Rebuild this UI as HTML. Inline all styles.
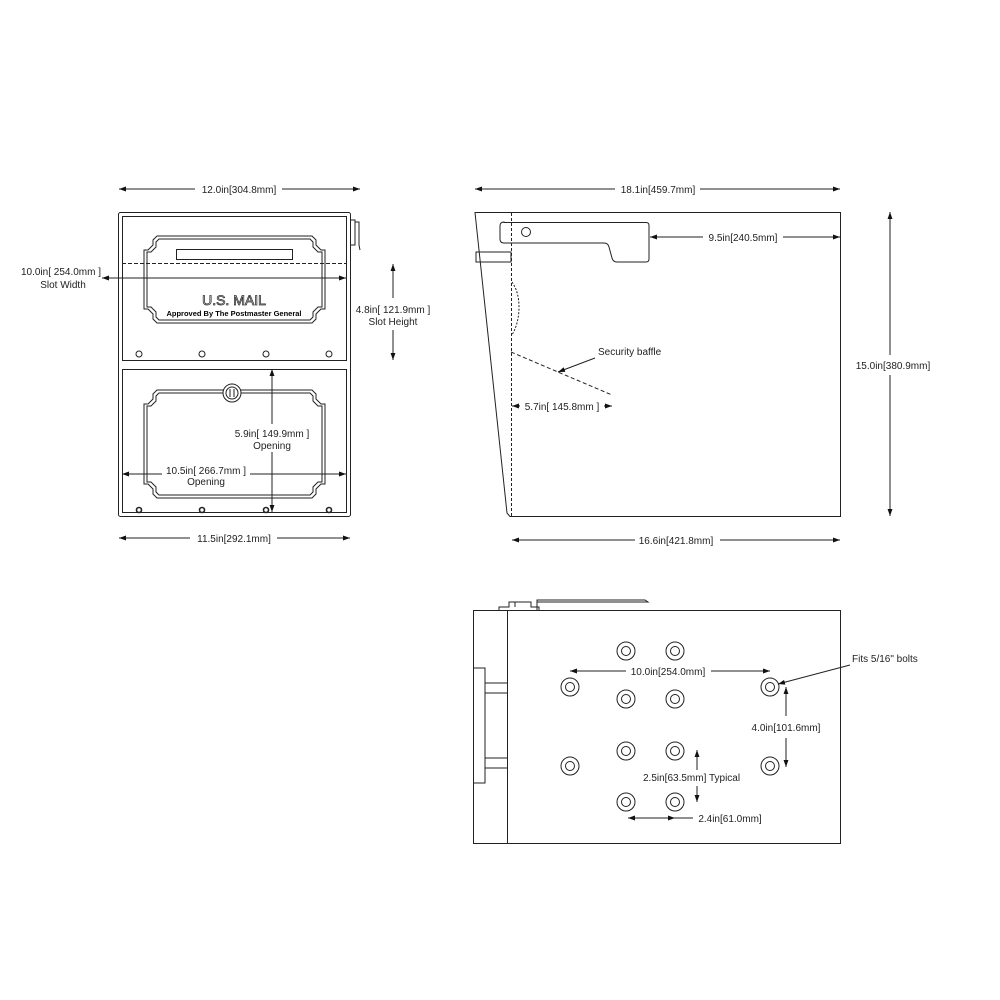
<!DOCTYPE html>
<html><head><meta charset="utf-8"><style>
html,body{margin:0;padding:0;background:#fff;}
svg{display:block;}
text{font-family:"Liberation Sans",sans-serif;font-size:10px;fill:#222;}
</style></head><body>
<svg width="1000" height="1000" viewBox="0 0 1000 1000" xmlns="http://www.w3.org/2000/svg">
<defs>
<marker id="a" viewBox="0 0 10 10" refX="10" refY="5" markerWidth="7" markerHeight="7" orient="auto-start-reverse"><path d="M0,1.5 L10,5 L0,8.5z" fill="#111"/></marker>
</defs>
<g fill="none" stroke="#222" stroke-width="1">
<!-- FRONT VIEW -->
<rect x="118.5" y="212.5" width="232" height="304" rx="2"/>
<rect x="122.5" y="216.5" width="224" height="144"/>
<rect x="122.5" y="369.5" width="224" height="143"/>
<path d="M350,220 h5 v25 h-5 M355,222 h4 v23 l1,5"/>
<line x1="122" y1="263.5" x2="346" y2="263.5" stroke-dasharray="4,2"/>
<rect x="176.5" y="249.5" width="116" height="10"/>
<path d="M157,236 H312 l4,4 v5 l5,5 h4 v59 h-4 l-5,5 v5 l-4,4 H157 l-4,-4 v-5 l-5,-5 h-4 v-59 h4 l5,-5 v-5z"/>
<path d="M159,239 H310 l3,3 v5 l5,5 h4 v55 h-4 l-5,5 v5 l-3,3 H159 l-3,-3 v-5 l-5,-5 h-4 v-55 h4 l5,-5 v-5z"/>
<path d="M157,390 H312 l4,4 v5 l5,5 h4 v80 h-4 l-5,5 v5 l-4,4 H157 l-4,-4 v-5 l-5,-5 h-4 v-80 h4 l5,-5 v-5z"/>
<path d="M159,393 H310 l3,3 v5 l5,5 h4 v76 h-4 l-5,5 v5 l-3,3 H159 l-3,-3 v-5 l-5,-5 h-4 v-76 h4 l5,-5 v-5z"/>
<circle cx="232" cy="393" r="9" fill="#fff"/><circle cx="232" cy="393" r="6"/>
<path d="M230,389 v8 M234,389 v8"/>
<circle cx="139" cy="354" r="3"/><circle cx="202" cy="354" r="3"/><circle cx="266" cy="354" r="3"/><circle cx="329" cy="354" r="3"/>
<g stroke-width="1.6"><circle cx="139" cy="510" r="2.5"/><circle cx="202" cy="510" r="2.5"/><circle cx="266" cy="510" r="2.5"/><circle cx="329" cy="510" r="2.5"/></g>
<!-- front dims -->
<line x1="119" y1="189" x2="195" y2="189" marker-start="url(#a)"/><line x1="282" y1="189" x2="360" y2="189" marker-end="url(#a)"/>
<line x1="119" y1="538" x2="190" y2="538" marker-start="url(#a)"/><line x1="277" y1="538" x2="350" y2="538" marker-end="url(#a)"/>
<line x1="102" y1="278" x2="346" y2="278" marker-start="url(#a)" marker-end="url(#a)"/>
<line x1="393" y1="264" x2="393" y2="298" marker-start="url(#a)"/><line x1="393" y1="330" x2="393" y2="360" marker-end="url(#a)"/>
<line x1="272" y1="369" x2="272" y2="424" marker-start="url(#a)"/><line x1="272" y1="452" x2="272" y2="512" marker-end="url(#a)"/>
<line x1="122" y1="474" x2="162" y2="474" marker-start="url(#a)"/><line x1="250" y1="474" x2="346" y2="474" marker-end="url(#a)"/>
<!-- SIDE VIEW -->
<path d="M475,212.5 H840.5 V516.5 H510 L507,513 Z"/>
<line x1="511.5" y1="213" x2="511.5" y2="516" stroke-dasharray="3,2"/>
<path d="M476,252 h35 v10 h-35z"/>
<path d="M504,222.5 H646 q3,0 3,3 V259 q0,3 -3,3 H617 q-4,0 -5,-4 l-3,-11 q-1,-4 -5,-4 H504 q-4,0 -4,-4 V226 q0,-4 4,-4z"/>
<circle cx="526" cy="232" r="4.5"/>
<path d="M512,282 q7,10 7,25 q0,16 -7,28" stroke-dasharray="2,1.5"/>
<line x1="511" y1="352" x2="612" y2="395" stroke-dasharray="4,2.5"/>
<line x1="595" y1="358" x2="558" y2="372" marker-end="url(#a)"/>
<line x1="475" y1="189" x2="615" y2="189" marker-start="url(#a)"/><line x1="700" y1="189" x2="840" y2="189" marker-end="url(#a)"/>
<line x1="512" y1="540" x2="635" y2="540" marker-start="url(#a)"/><line x1="720" y1="540" x2="840" y2="540" marker-end="url(#a)"/>
<line x1="650" y1="237" x2="703" y2="237" marker-start="url(#a)"/><line x1="783" y1="237" x2="840" y2="237" marker-end="url(#a)"/>
<line x1="890" y1="212" x2="890" y2="355" marker-start="url(#a)"/><line x1="890" y1="375" x2="890" y2="516" marker-end="url(#a)"/>
<line x1="512" y1="406" x2="520" y2="406" marker-start="url(#a)"/><line x1="604" y1="406" x2="612" y2="406" marker-end="url(#a)"/>
<!-- BOTTOM VIEW -->
<rect x="473.5" y="610.5" width="367" height="233"/>
<line x1="507.5" y1="610" x2="507.5" y2="843"/>
<path d="M474,668 h11 v115 h-11 M485,683 h22 M485,693 h22 M485,758 h22 M485,768 h22"/>
<path d="M499,610 v-3 h10 v-5 h22 v5 h8 v3 M515,607 v-5 M537,610 v-10 h108 l3,2 h-111"/>
<g>
<circle cx="626" cy="651" r="9"/><circle cx="626" cy="651" r="4.5"/>
<circle cx="675" cy="651" r="9"/><circle cx="675" cy="651" r="4.5"/>
<circle cx="570" cy="687" r="9"/><circle cx="570" cy="687" r="4.5"/>
<circle cx="770" cy="687" r="9"/><circle cx="770" cy="687" r="4.5"/>
<circle cx="626" cy="699" r="9"/><circle cx="626" cy="699" r="4.5"/>
<circle cx="675" cy="699" r="9"/><circle cx="675" cy="699" r="4.5"/>
<circle cx="626" cy="751" r="9"/><circle cx="626" cy="751" r="4.5"/>
<circle cx="675" cy="751" r="9"/><circle cx="675" cy="751" r="4.5"/>
<circle cx="570" cy="766" r="9"/><circle cx="570" cy="766" r="4.5"/>
<circle cx="770" cy="766" r="9"/><circle cx="770" cy="766" r="4.5"/>
<circle cx="626" cy="802" r="9"/><circle cx="626" cy="802" r="4.5"/>
<circle cx="675" cy="802" r="9"/><circle cx="675" cy="802" r="4.5"/>
</g>
<line x1="570" y1="671" x2="626" y2="671" marker-start="url(#a)"/><line x1="711" y1="671" x2="770" y2="671" marker-end="url(#a)"/>
<line x1="786" y1="687" x2="786" y2="716" marker-start="url(#a)"/><line x1="786" y1="738" x2="786" y2="767" marker-end="url(#a)"/>
<line x1="697" y1="750" x2="697" y2="770" marker-start="url(#a)"/><line x1="697" y1="786" x2="697" y2="802" marker-end="url(#a)"/>
<line x1="628" y1="818" x2="675" y2="818" marker-start="url(#a)" marker-end="url(#a)"/><line x1="675" y1="818" x2="693" y2="818"/>
<line x1="850" y1="665" x2="778" y2="684" marker-end="url(#a)"/>
</g>
<!-- TEXT -->
<text x="239" y="193" text-anchor="middle">12.0in[304.8mm]</text>
<text x="234" y="542" text-anchor="middle">11.5in[292.1mm]</text>
<text x="61" y="275" text-anchor="middle">10.0in[ 254.0mm ]</text>
<text x="63" y="288" text-anchor="middle">Slot Width</text>
<text x="393" y="313" text-anchor="middle">4.8in[ 121.9mm ]</text>
<text x="393" y="325" text-anchor="middle">Slot Height</text>
<text x="272" y="437" text-anchor="middle">5.9in[ 149.9mm ]</text>
<text x="272" y="449" text-anchor="middle">Opening</text>
<text x="206" y="474" text-anchor="middle">10.5in[ 266.7mm ]</text>
<text x="206" y="485" text-anchor="middle">Opening</text>
<text x="234" y="305" text-anchor="middle" style="font-size:14px;fill:#fff;stroke:#333;stroke-width:0.8">U.S. MAIL</text>
<text x="234" y="316" text-anchor="middle" style="font-size:7.5px;font-weight:bold;fill:#000">Approved By The Postmaster General</text>
<text x="658" y="193" text-anchor="middle">18.1in[459.7mm]</text>
<text x="743" y="241" text-anchor="middle">9.5in[240.5mm]</text>
<text x="598" y="355">Security baffle</text>
<text x="562" y="410" text-anchor="middle">5.7in[ 145.8mm ]</text>
<text x="893" y="369" text-anchor="middle">15.0in[380.9mm]</text>
<text x="676" y="544" text-anchor="middle">16.6in[421.8mm]</text>
<text x="668" y="675" text-anchor="middle">10.0in[254.0mm]</text>
<text x="852" y="662">Fits 5/16" bolts</text>
<text x="786" y="731" text-anchor="middle">4.0in[101.6mm]</text>
<text x="643" y="781">2.5in[63.5mm] Typical</text>
<text x="730" y="822" text-anchor="middle">2.4in[61.0mm]</text>
</svg>
</body></html>
